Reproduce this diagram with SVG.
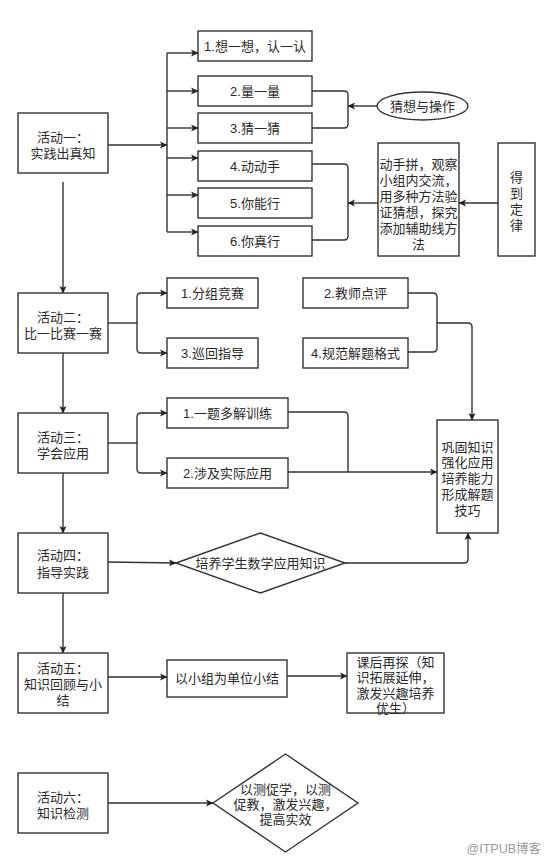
<svg xmlns="http://www.w3.org/2000/svg" width="554" height="862" viewBox="0 0 554 862">
<defs>
<marker id="ah" markerWidth="8" markerHeight="8" refX="7" refY="4" orient="auto" markerUnits="userSpaceOnUse">
<path d="M0,0.5 L7.5,4 L0,7.5 L1.8,4 Z" fill="#222"/>
</marker>
<style>
rect,ellipse,polygon{fill:#fff;stroke:#333;stroke-width:1.4}
.c path,.c line{fill:none;stroke:#333;stroke-width:1.4}
.a{marker-end:url(#ah)}
text{font-family:"Liberation Sans","Noto Sans CJK SC",sans-serif;font-size:13px;fill:#2a2a2a;text-anchor:middle}
.wm{fill:#9a9a9a;font-size:12.5px}
</style>
</defs>
<rect x="0" y="0" width="554" height="862" style="fill:#fff;stroke:none"/>

<g class="c" id="connectors">
<line class="a" x1="108" y1="145" x2="167" y2="145"/>
<line x1="167" y1="53" x2="167" y2="232"/>
<line class="a" x1="167" y1="53" x2="198" y2="53"/>
<line class="a" x1="167" y1="91" x2="198" y2="91"/>
<line class="a" x1="167" y1="128" x2="198" y2="128"/>
<line class="a" x1="167" y1="158" x2="198" y2="158"/>
<line class="a" x1="167" y1="195" x2="198" y2="195"/>
<line class="a" x1="167" y1="232" x2="198" y2="232"/>
<path d="M312,91 H344 Q348,91 348,95 V124 Q348,128 344,128 H312"/>
<line class="a" x1="377" y1="106" x2="348" y2="106"/>
<path d="M312,164 H344 Q348,164 348,168 V236 Q348,240 344,240 H312"/>
<line class="a" x1="378" y1="203" x2="348" y2="203"/>
<line class="a" x1="498" y1="203" x2="459" y2="203"/>
<line class="a" x1="63" y1="182" x2="63" y2="293"/>
<line x1="108" y1="323" x2="137" y2="323"/>
<path class="a" d="M137,323 V297 Q137,293 141,293 H167"/>
<path class="a" d="M137,323 V349 Q137,353 141,353 H167"/>
<path d="M408,293 H433 Q437,293 437,297 V348 Q437,352 433,352 H408"/>
<path class="a" d="M437,323 H468 Q472,323 472,327 V420"/>
<line class="a" x1="63" y1="353" x2="63" y2="413"/>
<line x1="108" y1="443" x2="137" y2="443"/>
<path class="a" d="M137,443 V417 Q137,413 141,413 H167"/>
<path class="a" d="M137,443 V469 Q137,473 141,473 H167"/>
<path d="M288,412 H344 Q348,412 348,416 V472"/>
<line class="a" x1="288" y1="472" x2="437" y2="472"/>
<line class="a" x1="63" y1="473" x2="63" y2="533"/>
<line class="a" x1="108" y1="562" x2="176" y2="563"/>
<path class="a" d="M345,563 H464 Q468,563 468,559 V533"/>
<line class="a" x1="63" y1="593" x2="63" y2="653"/>
<line class="a" x1="108" y1="677" x2="167" y2="677"/>
<line class="a" x1="287" y1="676" x2="347" y2="676"/>
<line class="a" x1="108" y1="803" x2="213" y2="803"/>
</g>

<g id="act1"><rect x="18" y="113" width="90" height="60"/><text x="63" y="142">活动一：</text><text x="63" y="158">实践出真知</text></g>
<g id="s1"><rect x="198" y="31" width="114" height="30"/><text x="255" y="51">1.想一想，认一认</text></g>
<g id="s2"><rect x="198" y="76" width="114" height="30"/><text x="255" y="96">2.量一量</text></g>
<g id="s3"><rect x="198" y="113" width="114" height="30"/><text x="255" y="133">3.猜一猜</text></g>
<g id="s4"><rect x="198" y="151" width="114" height="30"/><text x="255" y="171">4.动动手</text></g>
<g id="s5"><rect x="198" y="188" width="114" height="30"/><text x="255" y="208">5.你能行</text></g>
<g id="s6"><rect x="198" y="226" width="114" height="30"/><text x="255" y="246">6.你真行</text></g>
<g id="guess"><ellipse cx="422.5" cy="106" rx="45.5" ry="14"/><text x="422.5" y="111">猜想与操作</text></g>
<g id="hands"><rect x="378" y="143" width="81" height="113"/>
<text x="418.5" y="169">动手拼，观察</text><text x="418.5" y="185">小组内交流，</text><text x="418.5" y="201">用多种方法验</text><text x="418.5" y="217">证猜想，探究</text><text x="418.5" y="233">添加辅助线方</text><text x="418.5" y="249">法</text></g>
<g id="law"><rect x="498" y="143" width="37" height="113"/>
<text x="516.5" y="182">得</text><text x="516.5" y="198">到</text><text x="516.5" y="214">定</text><text x="516.5" y="230">律</text></g>

<g id="act2"><rect x="18" y="293" width="90" height="60"/><text x="63" y="322">活动二：</text><text x="63" y="338">比一比赛一赛</text></g>
<g id="b1"><rect x="167" y="278" width="91" height="30"/><text x="212.5" y="298">1.分组竞赛</text></g>
<g id="b3"><rect x="167" y="338" width="91" height="30"/><text x="212.5" y="358">3.巡回指导</text></g>
<g id="b2"><rect x="303" y="278" width="105" height="30"/><text x="355.5" y="298">2.教师点评</text></g>
<g id="b4"><rect x="303" y="338" width="105" height="30"/><text x="355.5" y="358">4.规范解题格式</text></g>

<g id="act3"><rect x="18" y="413" width="90" height="60"/><text x="63" y="442">活动三：</text><text x="63" y="458">学会应用</text></g>
<g id="c1"><rect x="167" y="398" width="121" height="30"/><text x="227.5" y="418">1.一题多解训练</text></g>
<g id="c2"><rect x="167" y="458" width="121" height="30"/><text x="227.5" y="478">2.涉及实际应用</text></g>
<g id="consol"><rect x="437" y="420" width="61" height="113"/>
<text x="467.5" y="452">巩固知识</text><text x="467.5" y="467">强化应用</text><text x="467.5" y="483">培养能力</text><text x="467.5" y="499">形成解题</text><text x="467.5" y="515">技巧</text></g>

<g id="act4"><rect x="18" y="533" width="90" height="60"/><text x="63" y="560">活动四：</text><text x="63" y="577">指导实践</text></g>
<g id="d4"><polygon points="176,563 260.5,533 345,563 260.5,593"/><text x="260.5" y="568">培养学生数学应用知识</text></g>

<g id="act5"><rect x="18" y="653" width="90" height="60"/><text x="63" y="673">活动五：</text><text x="63" y="689">知识回顾与小</text><text x="63" y="705">结</text></g>
<g id="sum"><rect x="167" y="660" width="120" height="37"/><text x="227" y="683">以小组为单位小结</text></g>
<g id="after"><rect x="347" y="653" width="97" height="60"/>
<text x="395.5" y="667">课后再探（知</text><text x="395.5" y="682">识拓展延伸，</text><text x="395.5" y="698">激发兴趣培养</text><text x="395.5" y="713">优生）</text></g>

<g id="act6"><rect x="18" y="773" width="90" height="60"/><text x="63" y="802">活动六：</text><text x="63" y="818">知识检测</text></g>
<g id="d6"><polygon points="213,803 285.5,754 358,803 285.5,852"/>
<text x="285.5" y="794">以测促学，以测</text><text x="285.5" y="809">促教，激发兴趣，</text><text x="285.5" y="824">提高实效</text></g>

<text class="wm" x="541" y="853" style="text-anchor:end">@ITPUB博客</text>
</svg>
